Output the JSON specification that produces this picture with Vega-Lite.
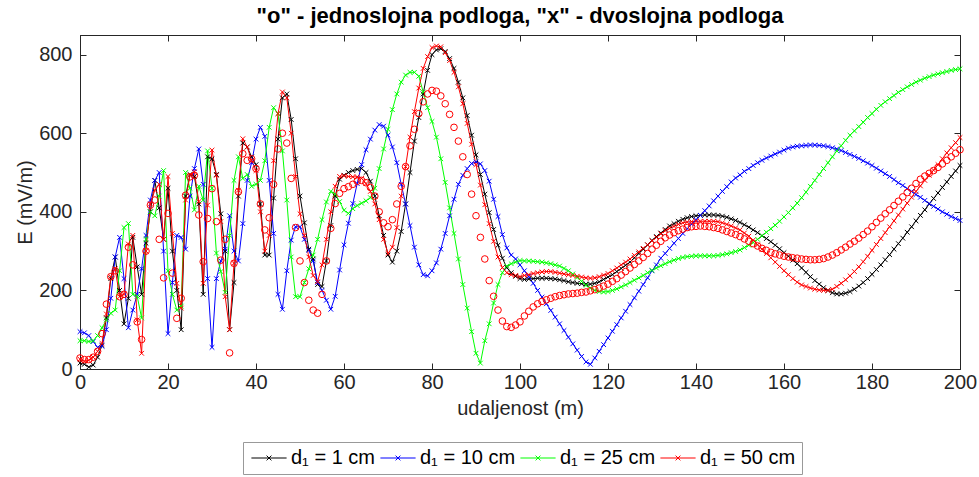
{
"$schema":"https://vega.github.io/schema/vega-lite/v6.json",
"width":880,"height":334,
"autosize":{"type":"none"},
"padding":{"left":80,"top":35,"right":19,"bottom":108},
"background":"white",
"title":{"text":"\"o\" - jednoslojna podloga, \"x\" - dvoslojna podloga","font":"Liberation Sans","fontSize":22,"fontWeight":"bold","color":"#000000","anchor":"middle","frame":"group","offset":7},
"config":{"view":{"stroke":"#262626","strokeWidth":1},
"axis":{"domainColor":"#262626","tickColor":"#262626","labelColor":"#262626","titleColor":"#262626","labelFont":"Liberation Sans","titleFont":"Liberation Sans","labelFontSize":20,"titleFontSize":20,"titleFontWeight":"normal","grid":false,"tickSize":-6,"labelFlush":false}},
"datasets":{"d":[
{"x":0,"a":15,"b":95,"c":72,"d":25,"o":28},
{"x":1,"a":12,"b":92,"c":72,"d":20,"o":24},
{"x":2,"a":5,"b":85,"c":70,"d":22,"o":24},
{"x":3,"a":10,"b":70,"c":72,"d":30,"o":30},
{"x":4,"a":30,"b":55,"c":85,"d":45,"o":45},
{"x":5,"a":60,"b":58,"c":105,"d":65,"o":90},
{"x":6,"a":130,"b":100,"c":125,"d":140,"o":165},
{"x":7,"a":230,"b":180,"c":142,"d":235,"o":235},
{"x":8,"a":285,"b":285,"c":150,"d":255,"o":250},
{"x":9,"a":200,"b":335,"c":250,"d":184,"o":184},
{"x":10,"a":115,"b":230,"c":360,"d":190,"o":190},
{"x":11,"a":180,"b":105,"c":370,"d":318,"o":310},
{"x":12,"a":335,"b":150,"c":190,"d":340,"o":265},
{"x":13,"a":260,"b":190,"c":185,"d":125,"o":120},
{"x":14,"a":190,"b":255,"c":130,"d":40,"o":75},
{"x":15,"a":320,"b":340,"c":330,"d":300,"o":300},
{"x":16,"a":400,"b":430,"c":400,"d":420,"o":417},
{"x":17,"a":480,"b":480,"c":390,"d":455,"o":430},
{"x":18,"a":410,"b":500,"c":440,"d":470,"o":330},
{"x":19,"a":330,"b":300,"c":505,"d":330,"o":232},
{"x":20,"a":460,"b":90,"c":250,"d":490,"o":396},
{"x":21,"a":300,"b":220,"c":190,"d":345,"o":244},
{"x":22,"a":200,"b":340,"c":150,"d":218,"o":129},
{"x":23,"a":100,"b":335,"c":160,"d":155,"o":180},
{"x":24,"a":440,"b":305,"c":500,"d":430,"o":442},
{"x":25,"a":495,"b":440,"c":460,"d":493,"o":489},
{"x":26,"a":490,"b":510,"c":405,"d":502,"o":493},
{"x":27,"a":420,"b":560,"c":465,"d":426,"o":392},
{"x":28,"a":190,"b":470,"c":430,"d":218,"o":273},
{"x":29,"a":540,"b":230,"c":555,"d":417,"o":383},
{"x":30,"a":535,"b":55,"c":460,"d":557,"o":459},
{"x":31,"a":495,"b":230,"c":295,"d":493,"o":375},
{"x":32,"a":395,"b":275,"c":248,"d":375,"o":277},
{"x":33,"a":300,"b":305,"c":195,"d":184,"o":330},
{"x":34,"a":100,"b":390,"c":340,"d":100,"o":41},
{"x":35,"a":220,"b":300,"c":480,"d":269,"o":269},
{"x":36,"a":440,"b":275,"c":540,"d":455,"o":451},
{"x":37,"a":575,"b":370,"c":485,"d":586,"o":548},
{"x":38,"a":565,"b":480,"c":495,"d":565,"o":531},
{"x":39,"a":540,"b":525,"c":465,"d":531,"o":535},
{"x":40,"a":520,"b":585,"c":470,"d":505,"o":510},
{"x":41,"a":420,"b":615,"c":480,"d":400,"o":420},
{"x":42,"a":290,"b":592,"c":530,"d":300,"o":354},
{"x":43,"a":290,"b":480,"c":615,"d":340,"o":385},
{"x":44,"a":435,"b":345,"c":665,"d":530,"o":470},
{"x":45,"a":585,"b":190,"c":650,"d":650,"o":560},
{"x":46,"a":690,"b":152,"c":555,"d":705,"o":600},
{"x":47,"a":700,"b":250,"c":430,"d":690,"o":575},
{"x":48,"a":635,"b":328,"c":285,"d":600,"o":485},
{"x":49,"a":535,"b":362,"c":184,"d":490,"o":360},
{"x":50,"a":440,"b":362,"c":184,"d":395,"o":275},
{"x":51,"a":372,"b":330,"c":220,"d":340,"o":220},
{"x":52,"a":305,"b":302,"c":255,"d":285,"o":175},
{"x":53,"a":280,"b":275,"c":290,"d":238,"o":150},
{"x":54,"a":215,"b":220,"c":330,"d":222,"o":142},
{"x":55,"a":210,"b":200,"c":380,"d":265,"o":190},
{"x":56,"a":275,"b":175,"c":425,"d":330,"o":275},
{"x":57,"a":365,"b":152,"c":452,"d":400,"o":358},
{"x":58,"a":440,"b":185,"c":445,"d":465,"o":421},
{"x":59,"a":483,"b":252,"c":426,"d":490,"o":447},
{"x":60,"a":493,"b":316,"c":404,"d":492,"o":459},
{"x":61,"a":500,"b":371,"c":396,"d":490,"o":464},
{"x":62,"a":505,"b":421,"c":408,"d":489,"o":470},
{"x":63,"a":508,"b":472,"c":416,"d":489,"o":478},
{"x":64,"a":510,"b":520,"c":422,"d":485,"o":480},
{"x":65,"a":500,"b":558,"c":428,"d":472,"o":474},
{"x":66,"a":478,"b":585,"c":436,"d":452,"o":462},
{"x":67,"a":440,"b":608,"c":460,"d":420,"o":440},
{"x":68,"a":390,"b":622,"c":510,"d":380,"o":400},
{"x":69,"a":340,"b":618,"c":560,"d":330,"o":372},
{"x":70,"a":290,"b":595,"c":610,"d":294,"o":362},
{"x":71,"a":272,"b":565,"c":660,"d":310,"o":380},
{"x":72,"a":300,"b":525,"c":700,"d":360,"o":420},
{"x":73,"a":350,"b":470,"c":730,"d":440,"o":465},
{"x":74,"a":420,"b":420,"c":748,"d":515,"o":515},
{"x":75,"a":500,"b":365,"c":755,"d":590,"o":568},
{"x":76,"a":580,"b":310,"c":755,"d":655,"o":610},
{"x":77,"a":640,"b":265,"c":745,"d":715,"o":650},
{"x":78,"a":700,"b":240,"c":705,"d":765,"o":680},
{"x":79,"a":760,"b":237,"c":665,"d":795,"o":700},
{"x":80,"a":800,"b":250,"c":630,"d":818,"o":709},
{"x":81,"a":812,"b":270,"c":590,"d":822,"o":707},
{"x":82,"a":815,"b":305,"c":535,"d":820,"o":695},
{"x":83,"a":808,"b":345,"c":475,"d":805,"o":675},
{"x":84,"a":790,"b":390,"c":410,"d":785,"o":648},
{"x":85,"a":765,"b":432,"c":345,"d":755,"o":615},
{"x":86,"a":730,"b":470,"c":280,"d":718,"o":580},
{"x":87,"a":690,"b":493,"c":215,"d":675,"o":540},
{"x":88,"a":645,"b":510,"c":155,"d":625,"o":495},
{"x":89,"a":595,"b":523,"c":95,"d":572,"o":445},
{"x":90,"a":545,"b":527,"c":40,"d":520,"o":390},
{"x":91,"a":495,"b":522,"c":15,"d":468,"o":335},
{"x":92,"a":445,"b":505,"c":72,"d":418,"o":280},
{"x":93,"a":398,"b":478,"c":115,"d":370,"o":225},
{"x":94,"a":355,"b":432,"c":168,"d":325,"o":185},
{"x":95,"a":315,"b":388,"c":215,"d":285,"o":150},
{"x":96,"a":282,"b":342,"c":245,"d":258,"o":122},
{"x":97,"a":258,"b":308,"c":262,"d":245,"o":108},
{"x":98,"a":245,"b":290,"c":268,"d":240,"o":106},
{"x":99,"a":236,"b":280,"c":272,"d":238,"o":112},
{"x":100,"a":230,"b":265,"c":276,"d":235,"o":120},
{"x":101,"a":228,"b":250,"c":275,"d":238,"o":135},
{"x":102,"a":229,"b":235,"c":275,"d":240,"o":147},
{"x":103,"a":230,"b":218,"c":274,"d":243,"o":158},
{"x":104,"a":231,"b":200,"c":273,"d":245,"o":166},
{"x":105,"a":231,"b":183,"c":272,"d":247,"o":172},
{"x":106,"a":231,"b":166,"c":270,"d":248,"o":176},
{"x":107,"a":230,"b":149,"c":268,"d":248,"o":180},
{"x":108,"a":229,"b":132,"c":265,"d":246,"o":184},
{"x":109,"a":227,"b":115,"c":262,"d":244,"o":187},
{"x":110,"a":225,"b":98,"c":256,"d":242,"o":189},
{"x":111,"a":222,"b":81,"c":250,"d":240,"o":191},
{"x":112,"a":220,"b":64,"c":242,"d":238,"o":192},
{"x":113,"a":218,"b":48,"c":233,"d":236,"o":193},
{"x":114,"a":217,"b":32,"c":223,"d":234,"o":195},
{"x":115,"a":216,"b":18,"c":213,"d":232,"o":196},
{"x":116,"a":216,"b":12,"c":206,"d":231,"o":199},
{"x":117,"a":218,"b":28,"c":200,"d":232,"o":202},
{"x":118,"a":222,"b":45,"c":197,"d":235,"o":206},
{"x":119,"a":228,"b":62,"c":196,"d":239,"o":211},
{"x":120,"a":234,"b":79,"c":197,"d":243,"o":216},
{"x":121,"a":240,"b":96,"c":200,"d":250,"o":223},
{"x":122,"a":248,"b":113,"c":204,"d":257,"o":230},
{"x":123,"a":256,"b":130,"c":209,"d":265,"o":239},
{"x":124,"a":264,"b":147,"c":214,"d":272,"o":248},
{"x":125,"a":272,"b":164,"c":220,"d":280,"o":257},
{"x":126,"a":283,"b":181,"c":226,"d":289,"o":266},
{"x":127,"a":294,"b":198,"c":232,"d":298,"o":275},
{"x":128,"a":305,"b":215,"c":238,"d":307,"o":284},
{"x":129,"a":316,"b":232,"c":245,"d":316,"o":294},
{"x":130,"a":327,"b":250,"c":251,"d":326,"o":305},
{"x":131,"a":337,"b":265,"c":257,"d":335,"o":315},
{"x":132,"a":346,"b":282,"c":263,"d":344,"o":325},
{"x":133,"a":355,"b":294,"c":268,"d":352,"o":334},
{"x":134,"a":364,"b":307,"c":273,"d":358,"o":341},
{"x":135,"a":370,"b":320,"c":277,"d":363,"o":347},
{"x":136,"a":376,"b":332,"c":281,"d":368,"o":352},
{"x":137,"a":381,"b":345,"c":284,"d":372,"o":356},
{"x":138,"a":385,"b":357,"c":286,"d":374,"o":360},
{"x":139,"a":388,"b":369,"c":287,"d":375,"o":362},
{"x":140,"a":390,"b":380,"c":288,"d":376,"o":363},
{"x":141,"a":391,"b":391,"c":288,"d":376,"o":364},
{"x":142,"a":392,"b":403,"c":288,"d":376,"o":363},
{"x":143,"a":392,"b":415,"c":288,"d":376,"o":362},
{"x":144,"a":392,"b":428,"c":288,"d":376,"o":360},
{"x":145,"a":391,"b":440,"c":289,"d":375,"o":358},
{"x":146,"a":389,"b":452,"c":291,"d":372,"o":354},
{"x":147,"a":386,"b":464,"c":293,"d":368,"o":350},
{"x":148,"a":382,"b":476,"c":296,"d":364,"o":346},
{"x":149,"a":378,"b":486,"c":299,"d":359,"o":342},
{"x":150,"a":373,"b":494,"c":303,"d":354,"o":337},
{"x":151,"a":367,"b":503,"c":309,"d":346,"o":331},
{"x":152,"a":361,"b":510,"c":315,"d":338,"o":325},
{"x":153,"a":354,"b":518,"c":322,"d":328,"o":319},
{"x":154,"a":347,"b":525,"c":330,"d":316,"o":313},
{"x":155,"a":339,"b":531,"c":339,"d":305,"o":307},
{"x":156,"a":332,"b":537,"c":348,"d":294,"o":302},
{"x":157,"a":324,"b":542,"c":357,"d":283,"o":297},
{"x":158,"a":315,"b":547,"c":366,"d":272,"o":293},
{"x":159,"a":306,"b":552,"c":376,"d":261,"o":290},
{"x":160,"a":296,"b":557,"c":387,"d":250,"o":287},
{"x":161,"a":287,"b":562,"c":398,"d":240,"o":285},
{"x":162,"a":277,"b":565,"c":410,"d":230,"o":283},
{"x":163,"a":268,"b":567,"c":422,"d":221,"o":282},
{"x":164,"a":257,"b":568,"c":436,"d":214,"o":280},
{"x":165,"a":246,"b":569,"c":450,"d":210,"o":279},
{"x":166,"a":235,"b":570,"c":465,"d":206,"o":278},
{"x":167,"a":225,"b":570,"c":480,"d":203,"o":278},
{"x":168,"a":216,"b":569,"c":495,"d":201,"o":279},
{"x":169,"a":207,"b":568,"c":510,"d":200,"o":281},
{"x":170,"a":200,"b":566,"c":525,"d":200,"o":285},
{"x":171,"a":194,"b":563,"c":540,"d":203,"o":290},
{"x":172,"a":191,"b":560,"c":555,"d":210,"o":296},
{"x":173,"a":191,"b":556,"c":568,"d":218,"o":303},
{"x":174,"a":193,"b":551,"c":582,"d":227,"o":310},
{"x":175,"a":197,"b":546,"c":595,"d":237,"o":318},
{"x":176,"a":203,"b":541,"c":606,"d":248,"o":325},
{"x":177,"a":211,"b":536,"c":617,"d":260,"o":333},
{"x":178,"a":220,"b":530,"c":628,"d":273,"o":342},
{"x":179,"a":230,"b":524,"c":640,"d":287,"o":351},
{"x":180,"a":241,"b":518,"c":650,"d":302,"o":362},
{"x":181,"a":253,"b":511,"c":661,"d":317,"o":373},
{"x":182,"a":265,"b":504,"c":671,"d":332,"o":384},
{"x":183,"a":278,"b":497,"c":680,"d":347,"o":395},
{"x":184,"a":291,"b":490,"c":688,"d":362,"o":405},
{"x":185,"a":305,"b":482,"c":696,"d":377,"o":416},
{"x":186,"a":319,"b":474,"c":704,"d":392,"o":427},
{"x":187,"a":333,"b":467,"c":711,"d":407,"o":438},
{"x":188,"a":348,"b":459,"c":718,"d":422,"o":449},
{"x":189,"a":362,"b":452,"c":724,"d":437,"o":460},
{"x":190,"a":377,"b":444,"c":730,"d":452,"o":472},
{"x":191,"a":391,"b":437,"c":735,"d":466,"o":483},
{"x":192,"a":405,"b":429,"c":740,"d":480,"o":491},
{"x":193,"a":420,"b":421,"c":744,"d":493,"o":498},
{"x":194,"a":434,"b":414,"c":748,"d":506,"o":505},
{"x":195,"a":448,"b":407,"c":751,"d":520,"o":513},
{"x":196,"a":462,"b":400,"c":754,"d":535,"o":522},
{"x":197,"a":476,"b":394,"c":757,"d":550,"o":531},
{"x":198,"a":490,"b":388,"c":760,"d":563,"o":540},
{"x":199,"a":504,"b":383,"c":762,"d":576,"o":549},
{"x":200,"a":518,"b":378,"c":764,"d":589,"o":558}
]},
"data":{"name":"d"},
"layer":[
{"transform":[{"fold":["a","b","c","d"],"as":["s","v"]}],
 "mark":{"type":"line","strokeWidth":1,"clip":true},
 "encoding":{
  "x":{"field":"x","type":"quantitative","scale":{"domain":[0,200],"nice":false},"axis":{"orient":"bottom","values":[0,20,40,60,80,100,120,140,160,180,200],"title":"udaljenost (m)","labelPadding":9,"titlePadding":6}},
  "y":{"field":"v","type":"quantitative","scale":{"domain":[0,850],"nice":false},"axis":{"orient":"left","values":[0,200,400,600,800],"title":"E (mV/m)","labelPadding":14,"titlePadding":3}},
  "color":{"field":"s","type":"nominal","scale":{"domain":["a","b","c","d"],"range":["#000000","#0000ff","#00ff00","#ff0000"]},
   "legend":{"orient":"none","legendX":163,"legendY":407,"direction":"horizontal","title":null,"symbolType":"M-2.2,0L2.2,0M-0.3,-0.3L0.3,0.3M-0.3,0.3L0.3,-0.3","symbolSize":256,"symbolOffset":10,"symbolStrokeWidth":1,"labelFont":"Liberation Sans","labelFontSize":20,"labelColor":"#000000","strokeColor":"#999999","fillColor":"white","padding":6,"columnPadding":2,"labelOffset":12,"labelExpr":"{'a':'d₁ = 1 cm','b':'d₁ = 10 cm','c':'d₁ = 25 cm','d':'d₁ = 50 cm'}[datum.label]"}}
 }},
{"transform":[{"fold":["a","b","c","d"],"as":["s","v"]}],
 "mark":{"type":"point","shape":"M-1,-1L1,1M-1,1L1,-1","filled":false,"size":22,"strokeWidth":1,"opacity":1},
 "encoding":{
  "x":{"field":"x","type":"quantitative","axis":{"orient":"top","values":[0,20,40,60,80,100,120,140,160,180,200],"labels":false,"title":null}},
  "y":{"field":"v","type":"quantitative","axis":{"orient":"right","values":[0,200,400,600,800],"labels":false,"title":null}},
  "color":{"field":"s","type":"nominal","scale":{"domain":["a","b","c","d"],"range":["#000000","#0000ff","#00ff00","#ff0000"]},
   "legend":{"orient":"none","legendX":163,"legendY":407,"direction":"horizontal","title":null,"symbolType":"M-2.2,0L2.2,0M-0.3,-0.3L0.3,0.3M-0.3,0.3L0.3,-0.3","symbolSize":256,"symbolOffset":10,"symbolStrokeWidth":1,"labelFont":"Liberation Sans","labelFontSize":20,"labelColor":"#000000","strokeColor":"#999999","fillColor":"white","padding":6,"columnPadding":2,"labelOffset":12,"labelExpr":"{'a':'d₁ = 1 cm','b':'d₁ = 10 cm','c':'d₁ = 25 cm','d':'d₁ = 50 cm'}[datum.label]"}}
 }},
{"mark":{"type":"point","shape":"circle","filled":false,"size":44,"strokeWidth":1,"color":"#ff0000","opacity":1},
 "encoding":{
  "x":{"field":"x","type":"quantitative","axis":null},
  "y":{"field":"o","type":"quantitative","axis":null}
 }}
],
"resolve":{"axis":{"x":"independent","y":"independent"}}
}
